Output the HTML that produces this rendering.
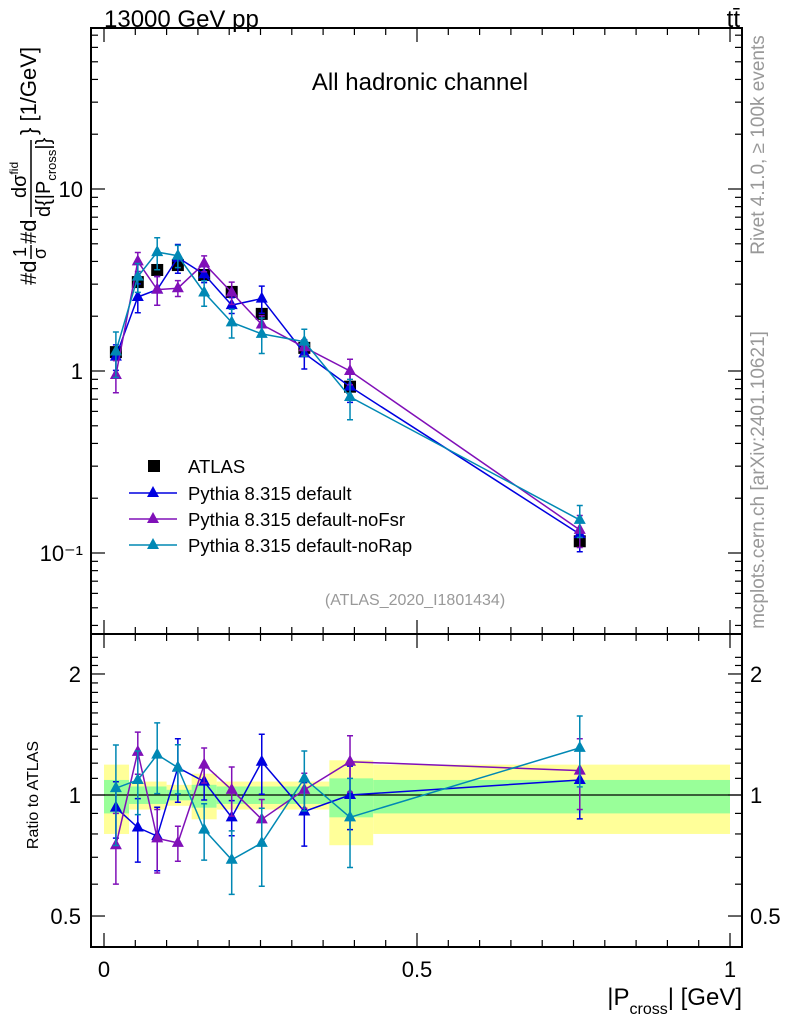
<!DOCTYPE html>
<html><head><meta charset="utf-8"><style>
html,body{margin:0;padding:0;background:#fff;}
svg text{font-family:"Liberation Sans",sans-serif;}
</style></head><body>
<svg id="c" width="786" height="1024" xmlns="http://www.w3.org/2000/svg">
<g id="bands"></g>
<g id="frame"></g>
<g id="marks"></g>
<text x="104" y="27" font-size="24">13000 GeV pp</text>
<text x="740" y="27" font-size="24" text-anchor="end">tt̄</text>
<text x="420" y="90" font-size="24" text-anchor="middle">All hadronic channel</text>
<text x="415" y="605" font-size="16" fill="#999" text-anchor="middle">(ATLAS_2020_I1801434)</text>
<text transform="translate(764,145) rotate(-90)" font-size="19" fill="#999" text-anchor="middle">Rivet 4.1.0, ≥ 100k events</text>
<text transform="translate(764,480) rotate(-90)" font-size="19" fill="#999" text-anchor="middle">mcplots.cern.ch [arXiv:2401.10621]</text>
<g transform="translate(36,160) rotate(-90)">
<text x="-125" y="0" font-size="22">#d</text>
<text x="-97" y="-10" font-size="18">1</text>
<line x1="-99" x2="-85" y1="-5" y2="-5" stroke="#000" stroke-width="1.5"/>
<text x="-99" y="10" font-size="18">σ</text>
<text x="-84" y="0" font-size="22">#d</text>
<text x="-38" y="-10" font-size="20">dσ<tspan font-size="12" dy="-8">fid</tspan></text>
<line x1="-57" x2="20" y1="-5" y2="-5" stroke="#000" stroke-width="1.5"/>
<text x="-57" y="14" font-size="20">d{|P<tspan font-size="13" dy="6">cross</tspan><tspan dy="-6">|}</tspan></text>
<text x="25" y="0" font-size="22">} [1/GeV]</text>
</g>
<text transform="translate(38,795) rotate(-90)" font-size="16" text-anchor="middle">Ratio to ATLAS</text>
<text x="742" y="1005" font-size="24" text-anchor="end">|P<tspan font-size="16" dy="9">cross</tspan><tspan dy="-9">| [GeV]</tspan></text>
<g>
<rect x="148" y="460" width="12" height="12" fill="#000"/>
<text x="188" y="473" font-size="18.5">ATLAS</text>
<line x1="129" y1="493" x2="177" y2="493" stroke="#0000e0" stroke-width="1.5"/>
<polygon points="153,486 159,497 147,497" fill="#0000e0"/>
<text x="188" y="500" font-size="18.5">Pythia 8.315 default</text>
<line x1="129" y1="519" x2="177" y2="519" stroke="#8010b8" stroke-width="1.5"/>
<polygon points="153,512 159,523 147,523" fill="#8010b8"/>
<text x="188" y="526" font-size="18.5">Pythia 8.315 default-noFsr</text>
<line x1="129" y1="545" x2="177" y2="545" stroke="#0088b4" stroke-width="1.5"/>
<polygon points="153,538 159,549 147,549" fill="#0088b4"/>
<text x="188" y="552" font-size="18.5">Pythia 8.315 default-noRap</text>
</g>
</svg>
<script>
const xs = [0.019,0.054,0.085,0.118,0.16,0.204,0.252,0.32,0.393,0.76];
const atlas = [1.27,3.08,3.59,3.82,3.37,2.72,2.06,1.34,0.82,0.116];
const simDefault = [1.2,2.55,2.8,4.2,3.4,2.3,2.5,1.25,0.82,0.127];
const simNoFsr = [0.95,4.0,2.8,2.85,3.9,2.7,1.8,1.35,1.0,0.134];
const simNoRap = [1.28,3.3,4.5,4.3,2.7,1.85,1.6,1.45,0.72,0.152];
const errDefault = [0.16,0.18,0.18,0.18,0.1,0.1,0.17,0.18,0.18,0.2];
const errNoFsr = [0.2,0.12,0.18,0.1,0.1,0.14,0.12,0.1,0.16,0.2];
const errNoRap = [0.28,0.18,0.2,0.14,0.16,0.18,0.22,0.17,0.25,0.2];
const ratioDefault = [0.93,0.83,0.79,1.17,1.08,0.88,1.21,0.91,1.0,1.09];
const ratioNoFsr = [0.75,1.28,0.78,0.76,1.19,1.03,0.87,1.03,1.21,1.15];
const ratioNoRap = [1.04,1.09,1.26,1.17,0.82,0.69,0.76,1.10,0.88,1.31];
const bandEdges = [0,0.04,0.1,0.14,0.18,0.36,0.43,1.0];
const yellowLo = [0.80,0.92,0.94,0.87,0.92,0.75,0.80];
const yellowHi = [1.19,1.08,1.06,1.13,1.08,1.22,1.19];
const greenLo = [0.90,0.95,0.97,0.93,0.95,0.88,0.90];
const greenHi = [1.09,1.05,1.03,1.06,1.05,1.10,1.09];
const mainTicks = ["10⁻¹","1","10"];
const ratioTicks = [0.5,1,2];
const xTicks = [0,0.5,1];

const NS='http://www.w3.org/2000/svg';
const L=91,R=742,T=28,M=634,B=947;
const X=v=>104+v*626;
const Y=v=>371-182*Math.log10(v);
const RY=v=>795-402*Math.log10(v);
function mk(tag,attrs,parent){const e=document.createElementNS(NS,tag);for(const k in attrs)e.setAttribute(k,attrs[k]);document.getElementById(parent).appendChild(e);return e;}

for(let i=0;i<yellowLo.length;i++){
  let e=mk('rect',{x:X(bandEdges[i]),y:RY(yellowHi[i]),width:X(bandEdges[i+1])-X(bandEdges[i]),height:RY(yellowLo[i])-RY(yellowHi[i]),fill:'#ffff99'},'bands');
  
  
  let g=mk('rect',{x:X(bandEdges[i]),y:RY(greenHi[i]),width:X(bandEdges[i+1])-X(bandEdges[i]),height:RY(greenLo[i])-RY(greenHi[i]),fill:'#99ff99'},'bands');
  
  
}
let f1=mk('rect',{x:L,y:T,width:R-L,height:M-T,fill:'none',stroke:'#000','stroke-width':2},'frame');


let f2=mk('rect',{x:L,y:M,width:R-L,height:B-M,fill:'none',stroke:'#000','stroke-width':2},'frame');


let one=mk('line',{x1:L,x2:R,y1:RY(1),y2:RY(1),stroke:'#000','stroke-width':1.2},'frame');


for(let d=-2;d<=1;d++)for(let k=1;k<10;k++){const v=k*Math.pow(10,d);const y=Y(v);if(y<T||y>M)continue;const len=k==1?14:7;
  mk('line',{x1:L,x2:L+len,y1:y,y2:y,stroke:'#000','stroke-width':1.2},'frame');
  mk('line',{x1:R,x2:R-len,y1:y,y2:y,stroke:'#000','stroke-width':1.2},'frame');}
[0.1,1,10].forEach((v,i)=>{const t=mk('text',{x:L-8,y:Y(v)+8,'font-size':22,'text-anchor':'end'},'frame');t.textContent=mainTicks[i];
  
  });
for(let v=0.5;v<=2.3;v+=0.1){const y=RY(v);if(y<M||y>B)continue;const big=[0.5,1,2].some(q=>Math.abs(q-v)<1e-6);const len=big?14:7;
  mk('line',{x1:L,x2:L+len,y1:y,y2:y,stroke:'#000','stroke-width':1.2},'frame');
  mk('line',{x1:R,x2:R-len,y1:y,y2:y,stroke:'#000','stroke-width':1.2},'frame');}
ratioTicks.forEach(v=>{const t=mk('text',{x:L-10,y:RY(v)+8,'font-size':22,'text-anchor':'end'},'frame');t.textContent=String(v);
  
  
  const t2=mk('text',{x:R+8,y:RY(v)+8,'font-size':22},'frame');t2.textContent=String(v);
  
  });
for(let i=0;i<=20;i++){const v=i*0.05;if(X(v)>R)continue;const big=i%10==0;const len=big?14:7;
  mk('line',{x1:X(v),x2:X(v),y1:M,y2:M-len,stroke:'#000','stroke-width':1.2},'frame');
  mk('line',{x1:X(v),x2:X(v),y1:T,y2:T+len,stroke:'#000','stroke-width':1.2},'frame');
  mk('line',{x1:X(v),x2:X(v),y1:B,y2:B-len,stroke:'#000','stroke-width':1.2},'frame');
  mk('line',{x1:X(v),x2:X(v),y1:M,y2:M+len,stroke:'#000','stroke-width':1.2},'frame');}
xTicks.forEach(v=>{const t=mk('text',{x:X(v),y:977,'font-size':22,'text-anchor':'middle'},'frame');t.textContent=String(v);
  
  });

function series(vals,errs,color,name,yf){
  const pts=xs.map((x,i)=>X(x)+','+yf(vals[i])).join(' ');
  const pl=mk('polyline',{points:pts,fill:'none',stroke:color,'stroke-width':1.5},'marks');
  
  
  xs.forEach((x,i)=>{const cx=X(x),cy=yf(vals[i]);
    const lo=yf(vals[i]*(1-errs[i])),hi=yf(vals[i]*(1+errs[i]));
    const eb=mk('path',{d:`M${cx},${lo}V${hi}M${cx-3},${lo}h6M${cx-3},${hi}h6`,stroke:color,'stroke-width':1.5,fill:'none'},'marks');
    
    
    const m=mk('polygon',{points:`${cx},${cy-7} ${cx+6},${cy+4} ${cx-6},${cy+4}`,fill:color},'marks');
    
    });
}
xs.forEach((x,i)=>{const m=mk('rect',{x:X(x)-6,y:Y(atlas[i])-6,width:12,height:12,fill:'#000'},'marks');
  
  });
series(simDefault,errDefault,'#0000e0','default',Y);
series(simNoFsr,errNoFsr,'#8010b8','nofsr',Y);
series(simNoRap,errNoRap,'#0088b4','norap',Y);
series(ratioDefault,errDefault,'#0000e0','ratio-default',RY);
series(ratioNoFsr,errNoFsr,'#8010b8','ratio-nofsr',RY);
series(ratioNoRap,errNoRap,'#0088b4','ratio-norap',RY);
</script>
</body></html>
